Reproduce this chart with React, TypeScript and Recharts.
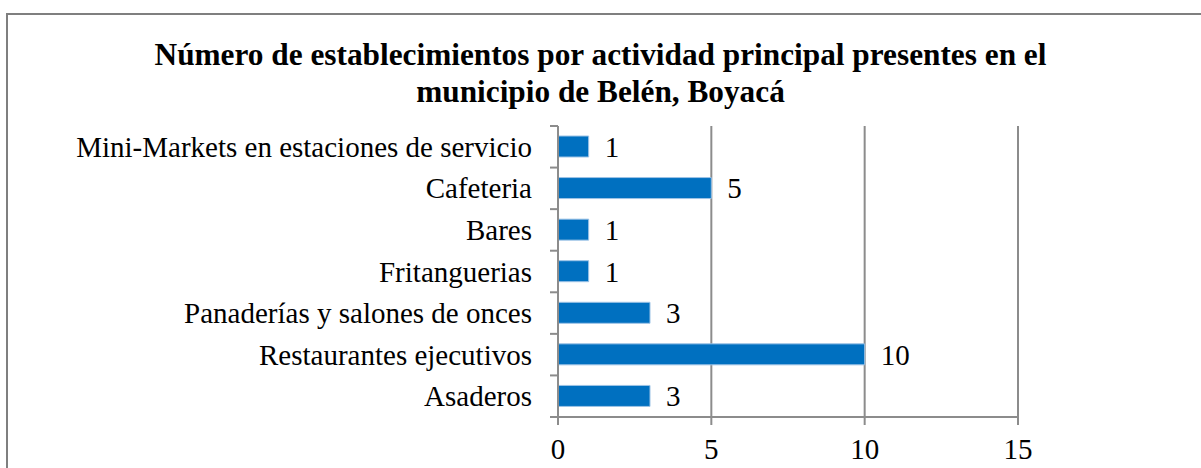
import { Bar, BarChart, CartesianGrid, XAxis, YAxis } from "recharts";

const categories = [
  "Mini-Markets en estaciones de servicio",
  "Cafeteria",
  "Bares ",
  "Fritanguerias",
  "Panaderías y salones de onces",
  "Restaurantes ejecutivos",
  "Asaderos",
];
const counts = [1, 5, 1, 1, 3, 10, 3];
const xTicks = [0, 5, 10, 15];

const rows = categories.map((name, i) => ({ name, value: counts[i] }));

const FONT = '"Liberation Serif", "Times New Roman", serif';
const AXIS = "#8c8c8c";

function CategoryTick(props: any) {
  const { x, y, payload, index } = props;
  const half = payload?.offset ?? 20.8;
  const axisX = x + 8;
  return (
    <g>
      <line x1={axisX - 8} x2={axisX} y1={y - half} y2={y - half} stroke={AXIS} strokeWidth={2} />
      {index === categories.length - 1 ? (
        <line x1={axisX - 8} x2={axisX} y1={y + half} y2={y + half} stroke={AXIS} strokeWidth={2} />
      ) : null}
      <text x={x - 18} y={y} textAnchor="end" dominantBaseline="central" fontSize={29} fontFamily={FONT} fill="#000">
        {payload.value}
      </text>
    </g>
  );
}

export default function App() {
  return (
    <div style={{ position: "absolute", left: 0, top: 0, width: 1201, height: 468, background: "#fff", overflow: "hidden" }}>
      <div
        style={{
          position: "absolute",
          left: 6,
          top: 13,
          width: 1300,
          height: 600,
          border: "2px solid #7f7f7f",
        }}
      />
      <div
        style={{
          position: "absolute",
          left: 0,
          top: 36,
          width: 1201,
          textAlign: "center",
          fontFamily: FONT,
          fontWeight: "bold",
          fontSize: 31.3,
          lineHeight: "37px",
          color: "#000",
        }}
      >
        Número de establecimientos por actividad principal presentes en el
        <br />
        municipio de Belén, Boyacá
      </div>
      <div style={{ position: "absolute", left: 0, top: 0 }}>
        <BarChart
          width={1201}
          height={468}
          data={rows}
          layout="vertical"
          margin={{ top: 126, right: 183, bottom: 11, left: 0 }}
          barSize={21}
        >
          <CartesianGrid vertical horizontal={false} stroke={AXIS} strokeWidth={2} />
          <XAxis
            type="number"
            domain={[0, 15]}
            ticks={xTicks}
            height={40}
            stroke={AXIS}
            strokeWidth={2}
            tickSize={8}
            tick={{ fontSize: 29, fontFamily: FONT, fill: "#000" }}
            tickMargin={13}
          />
          <YAxis
            type="category"
            dataKey="name"
            width={558}
            stroke={AXIS}
            strokeWidth={2}
            tickLine={false}
            tick={<CategoryTick />}
            interval={0}
          />
          <Bar
            dataKey="value"
            fill="#0070C0"
            stroke="#9DC3E6"
            strokeWidth={1}
            isAnimationActive={false}
            label={{ position: "right", offset: 16, fontSize: 29, fontFamily: FONT, fill: "#000" }}
          />
        </BarChart>
      </div>
    </div>
  );
}
